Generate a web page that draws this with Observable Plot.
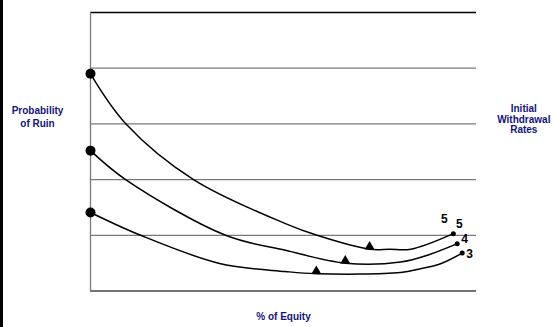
<!DOCTYPE html>
<html>
<head>
<meta charset="utf-8">
<script src="https://cdn.jsdelivr.net/npm/d3@7"></script>
<script src="https://cdn.jsdelivr.net/npm/@observablehq/plot@0.6"></script>
<style>
  html, body { margin: 0; padding: 0; background: #fff; }
  #wrap { position: relative; width: 555px; height: 327px; overflow: hidden; }
  #wrap::before { content: ""; position: absolute; left: 0; top: 0; width: 3px; height: 327px; background: #000; z-index: 2; }
  svg { display: block; }
</style>
</head>
<body>
<div id="wrap"></div>
<script>
// % of equity (x) and probability of ruin (y)
const equity5 = [0, 9.2, 26.7, 50.5, 58.7, 72.3, 77.5, 83, 94];
const ruin5   = [3.90, 3.00, 2.00, 1.21, 1.00, 0.75, 0.75, 0.75, 1.03];
const equity4 = [0, 9.1, 35, 50.5, 66, 80.3, 88, 95];
const ruin4   = [2.52, 2.00, 1.00, 0.73, 0.50, 0.52, 0.66, 0.85];
const equity3 = [0, 13, 33.7, 50.5, 58.5, 80.3, 85.5, 90.7, 96.3];
const ruin3   = [1.41, 1.00, 0.49, 0.35, 0.31, 0.33, 0.40, 0.49, 0.68];
// minimum points (triangles)
const minEquity = [72.3, 66.0, 58.5];
const minRuin   = [0.75, 0.50, 0.31];
const gridValues = [1, 2, 3, 4];
const endLabels = ["5", "5", "4", "3"];

const series = [
  {rate: "5", x: equity5, y: ruin5},
  {rate: "4", x: equity4, y: ruin4},
  {rate: "3", x: equity3, y: ruin3}
];
const lineData = series.flatMap(s => s.x.map((x, i) => ({rate: s.rate, x, y: s.y[i]})));
const startPts = series.map(s => ({x: s.x[0], y: s.y[0]}));
const endPts = series.map(s => ({x: s.x[s.x.length - 1], y: s.y[s.y.length - 1]}));
const minPts = minEquity.map((x, i) => ({x, y: minRuin[i]}));
const labelPts = [
  {...endPts[0], t: endLabels[0], dx: -9, dy: -14},
  {...endPts[0], t: endLabels[1], dx: 6, dy: -9},
  {...endPts[1], t: endLabels[2], dx: 7.5, dy: -4},
  {...endPts[2], t: endLabels[3], dx: 7.5, dy: 1}
];

const font = "Liberation Sans, Arial, sans-serif";
const navy = "#14147a";

const chart = Plot.plot({
  width: 555,
  height: 327,
  marginLeft: 90,
  marginRight: 79,
  marginTop: 12,
  marginBottom: 36.5,
  style: {fontFamily: font, background: "#fff", overflow: "visible"},
  x: {domain: [0, 100], axis: null},
  y: {domain: [0, 5], axis: null},
  marks: [
    Plot.ruleY(gridValues, {stroke: "#7a7a7a", strokeWidth: 1.2}),
    Plot.ruleY([5], {stroke: "#000", strokeWidth: 1.3}),
    Plot.ruleY([0], {stroke: "#444", strokeWidth: 1.3}),
    Plot.ruleX([0], {stroke: "#7a7a7a", strokeWidth: 1.3}),
    Plot.line(lineData, {x: "x", y: "y", z: "rate", stroke: "#000", strokeWidth: 1.5, curve: "catmull-rom"}),
    Plot.dot(startPts, {x: "x", y: "y", r: 5, fill: "#000"}),
    Plot.dot(endPts, {x: "x", y: "y", r: 2.5, fill: "#000"}),
    Plot.dot(minPts, {x: "x", y: "y", symbol: "triangle", r: 3.7, fill: "#000", dy: -2.5}),
    ...labelPts.map(p => Plot.text([p], {x: "x", y: "y", text: "t", dx: p.dx, dy: p.dy, fontSize: 12, fontWeight: "bold", fill: "#000"})),
    Plot.text(["Probability\nof Ruin"], {frameAnchor: "left", dx: -53, dy: -35.5, textAnchor: "middle", fontSize: 10, fontWeight: "bold", fill: navy, lineHeight: 1.3}),
    Plot.text(["Initial\nWithdrawal\nRates"], {frameAnchor: "right", dx: 47.3, dy: -32.5, textAnchor: "middle", fontSize: 10, fontWeight: "bold", fill: navy, lineHeight: 1.05}),
    Plot.text(["% of Equity"], {frameAnchor: "bottom", dy: 28.8, textAnchor: "middle", fontSize: 10, fontWeight: "bold", fill: navy})
  ]
});
document.getElementById("wrap").appendChild(chart);
</script>
</body>
</html>
